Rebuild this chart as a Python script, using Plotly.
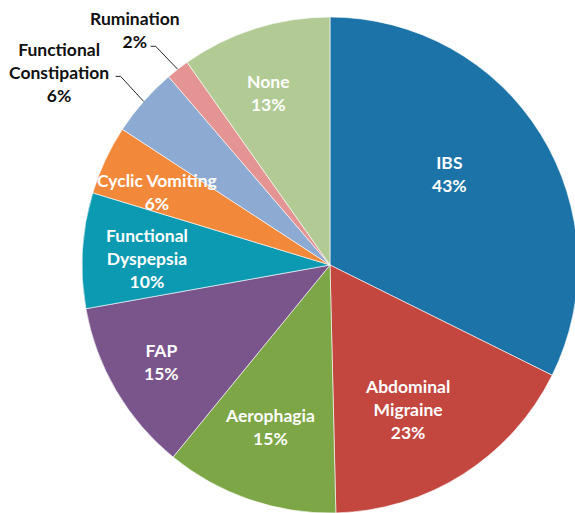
import math
import plotly.graph_objects as go

labels = ["IBS", "Abdominal Migraine", "Aerophagia", "FAP", "Functional Dyspepsia",
          "Cyclic Vomiting", "Functional Constipation", "Rumination", "None"]
display = ["IBS", "Abdominal<br>Migraine", "Aerophagia", "FAP", "Functional<br>Dyspepsia",
           "Cyclic Vomiting", "Functional<br>Constipation", "Rumination", "None"]
values = [43, 23, 15, 15, 10, 6, 6, 2, 13]
colors = ["#1B73A8", "#C3463F", "#7DA646", "#7A558C", "#0B9AB1",
          "#F2893A", "#8DAAD3", "#E49593", "#B2CB95"]
# style: label radius fraction / angle shift (deg) for inside labels; None -> outside label
label_r = [0.605, 0.662, 0.697, 0.786, 0.738, 0.755, None, None, 0.737]
label_da = [-5.6, 4.5, 1.4, 0.5, -1.2, -2.2, 0, 0, -2.2]
# outside labels: text offset, elbow offset (pixels relative to slice edge point)
out_text = {6: (-85, -29), 7: (-43, -39)}
out_elbow = {6: (-23, -25), 7: (-22, -23)}

W, H = 583, 513
R = 248
CX, CY = 330, 265
FONT = "Lato"
FS = 17.5

fig = go.Figure(go.Pie(
    labels=labels, values=values, sort=False, direction="clockwise", rotation=0,
    marker=dict(colors=colors, line=dict(color="white", width=0.6)),
    textinfo="none", hoverinfo="label+value", showlegend=False,
    domain=dict(x=[(CX - R) / W, (CX + R) / W], y=[1 - (CY + R) / H, 1 - (CY - R) / H]),
))


def px2paper(px, py):
    return px / W, 1 - py / H


total = sum(values)
annotations = []
shapes = []
cum = 0
for i, v in enumerate(values):
    mid = (cum + v / 2) / total * 2 * math.pi
    cum += v
    txt = f"{display[i]}<br>{v}%"
    if label_r[i] is not None:
        a = mid + math.radians(label_da[i])
        x, y = px2paper(CX + R * label_r[i] * math.sin(a), CY - R * label_r[i] * math.cos(a))
        annotations.append(dict(
            x=x, y=y, xref="paper", yref="paper", text=txt,
            showarrow=False, font=dict(family=FONT, size=FS, color="white", weight="bold"),
            xanchor="center", yanchor="middle"))
    else:
        ex = CX + R * math.sin(mid)
        ey = CY - R * math.cos(mid)
        tx, ty = out_text[i]
        bx, by = out_elbow[i]
        x, y = px2paper(ex + tx, ey + ty)
        annotations.append(dict(
            x=x, y=y, xref="paper", yref="paper", text=txt, showarrow=False,
            xanchor="center", yanchor="middle",
            font=dict(family=FONT, size=FS, color="#111111", weight="bold")))
        p0 = px2paper(ex, ey)
        p1 = px2paper(ex + bx, ey + by)
        p2 = px2paper(ex + bx - 5, ey + by)
        for a0, a1 in ((p0, p1), (p1, p2)):
            shapes.append(dict(type="line", xref="paper", yref="paper",
                               x0=a0[0], y0=a0[1], x1=a1[0], y1=a1[1],
                               line=dict(color="#262626", width=1)))

fig.update_layout(
    width=W, height=H, margin=dict(l=0, r=0, t=0, b=0),
    paper_bgcolor="white", plot_bgcolor="white",
    annotations=annotations, shapes=shapes,
)
fig.write_html(
    "out.html",
    config={"displayModeBar": False},
    post_script="document.body.style.margin='0';document.body.style.overflow='hidden';"
                "document.documentElement.style.overflow='hidden';",
)
